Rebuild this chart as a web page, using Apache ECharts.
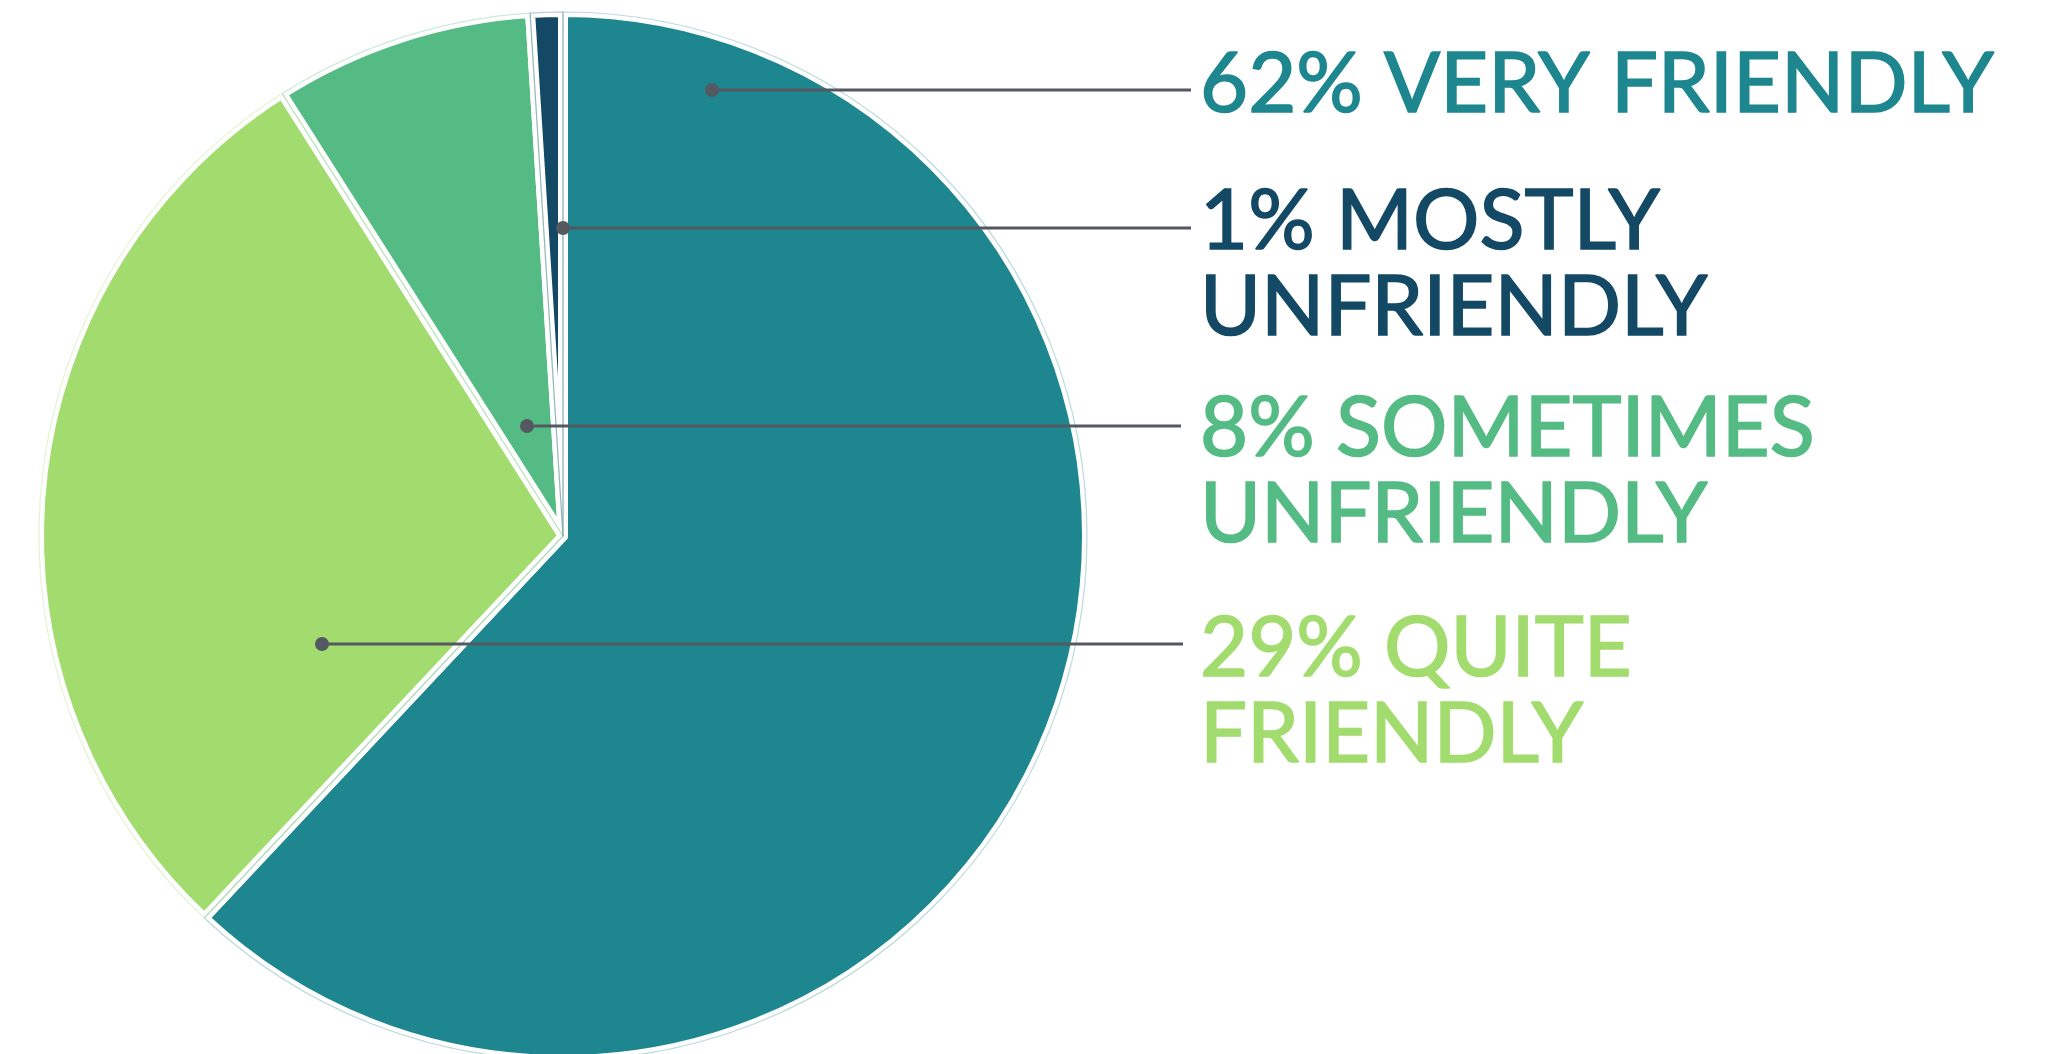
<!DOCTYPE html>
<html>
<head>
<meta charset="utf-8">
<script src="https://cdn.jsdelivr.net/npm/echarts@6/dist/echarts.min.js"></script>
<style>
  html, body { margin: 0; padding: 0; background: #fff; }
  #chart { width: 2064px; height: 1054px; }
</style>
</head>
<body>
<div id="chart"></div>
<script>
// data, clockwise from 12 o'clock
var categories = ['VERY FRIENDLY', 'QUITE\nFRIENDLY', 'SOMETIMES\nUNFRIENDLY', 'MOSTLY\nUNFRIENDLY'];
var percents = [62, 29, 8, 1];
var colors = ['#1d868f', '#a3dc6e', '#55bb84', '#134964'];

// layout of the callouts (pixels)
var labelX = 1200;
var labelTop = [42, 606, 386, 179];
var lineY = [90, 644, 426, 228];
var dotX = [712, 322, 527, 563];
var lineEndX = [1191, 1183, 1181, 1191];

var center = [563, 536];
var radius = 524;

var chart = echarts.init(document.getElementById('chart'));

var pieData = categories.map(function (name, i) {
    return {
        name: name,
        value: percents[i],
        itemStyle: { color: colors[i] },
        label: { color: colors[i], textBorderColor: colors[i] }
    };
});

var outlineData = categories.map(function (name, i) {
    var c = echarts.color.modifyAlpha(colors[i], 0.3);
    return { name: name, value: percents[i], itemStyle: { color: 'rgba(0,0,0,0)', borderColor: c } };
});

// leader lines + dots drawn above the sectors
var callouts = [];
for (var i = 0; i < dotX.length; i++) {
    callouts.push({
        type: 'line',
        shape: { x1: dotX[i], y1: lineY[i], x2: lineEndX[i], y2: lineY[i] },
        style: { stroke: '#545861', lineWidth: 3 },
        z: 100
    });
    callouts.push({
        type: 'circle',
        shape: { cx: dotX[i], cy: lineY[i], r: 7 },
        style: { fill: '#545861' },
        z: 101
    });
}

chart.setOption({
    animation: false,
    backgroundColor: '#ffffff',
    series: [
        {
            type: 'pie',
            center: center,
            radius: radius,
            startAngle: 90,
            clockwise: true,
            silent: true,
            z: 2,
            data: pieData,
            itemStyle: { borderColor: '#ffffff', borderWidth: 10 },
            label: {
                show: true,
                formatter: function (p) {
                    return p.value + '% ' + p.name;
                },
                fontFamily: 'Lato',
                fontSize: 83,
                lineHeight: 86,
                textBorderWidth: 1.6,
                align: 'left',
                overflow: 'none',
                width: 900
            },
            labelLine: { show: false },
            labelLayout: function (params) {
                var k = params.dataIndex;
                return {
                    x: labelX,
                    y: labelTop[k],
                    align: 'left',
                    verticalAlign: 'top',
                    width: 900
                };
            }
        },
        {
            type: 'pie',
            center: center,
            radius: radius,
            startAngle: 90,
            clockwise: true,
            silent: true,
            z: 3,
            data: outlineData,
            itemStyle: { borderWidth: 1.2 },
            label: { show: false },
            labelLine: { show: false }
        }
    ],
    graphic: callouts
});
</script>
</body>
</html>
